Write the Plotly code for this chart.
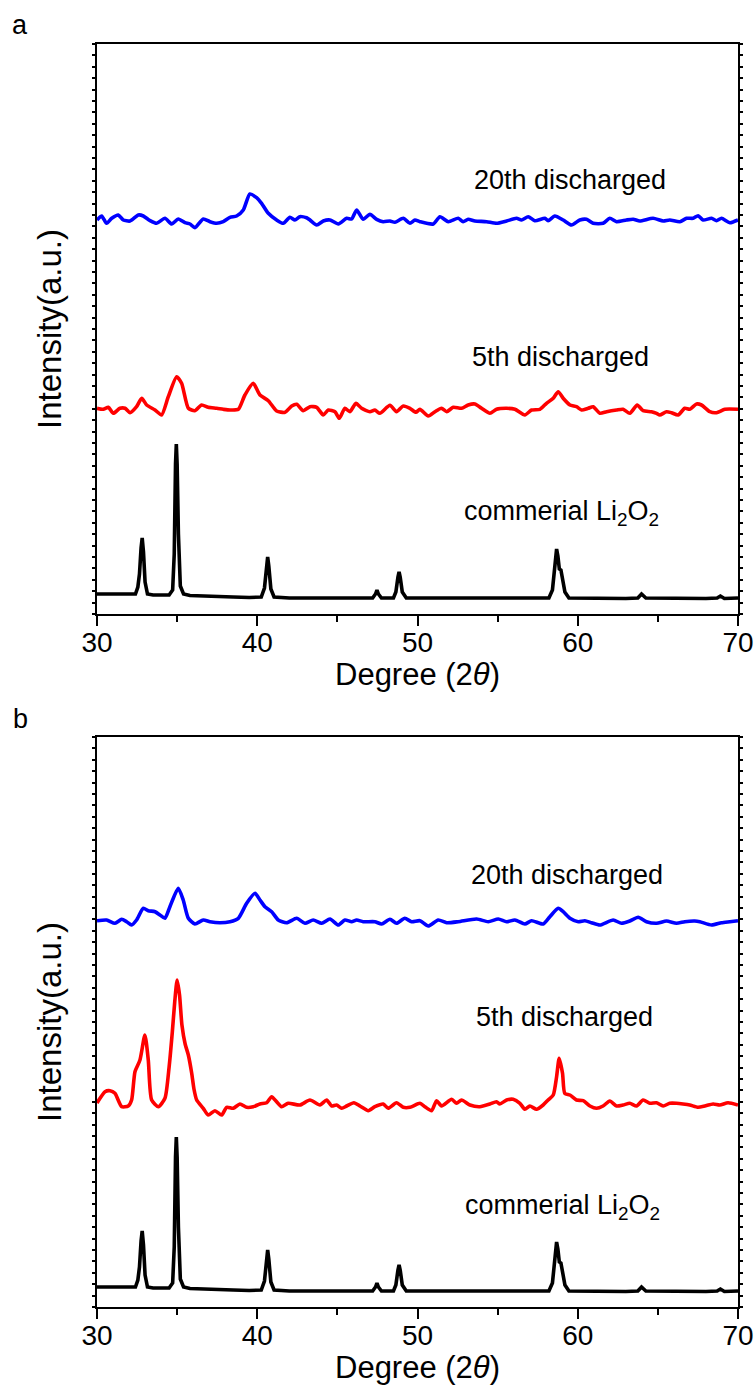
import plotly.graph_objects as go

W, H = 755, 1387

# ---------------- data (intensity in arbitrary units) -------------
# commercial Li2O2 reference pattern (same in both panels)
ref_theta = [30.0, 30.5, 31.0, 31.5, 32.0, 32.4, 32.55, 32.65, 32.75, 32.82, 32.9, 33.0, 33.15,
             33.5, 34.0, 34.5, 34.72, 34.82, 34.9, 34.95, 35.0, 35.08, 35.2, 35.4, 35.8, 36.5,
             37.5, 38.5, 39.5, 40.25, 40.45, 40.58, 40.65, 40.72, 40.85, 41.05, 42.0, 43.5, 45.0,
             46.5, 47.2, 47.38, 47.47, 47.56, 47.75, 48.5, 48.65, 48.78, 48.85, 48.92, 49.05,
             49.3, 51.0, 53.0, 55.0, 57.0, 58.2, 58.42, 58.58, 58.68, 58.76, 58.85, 58.95, 59.05,
             59.2, 59.45, 61.0, 63.0, 63.75, 63.98, 64.25, 66.0, 68.0, 68.7, 68.9, 69.15, 69.6, 70.0]
ref_int = [20, 20, 19.5, 20, 19.5, 20, 27, 40, 66, 76, 62, 32, 20,
           19, 19, 19, 24, 60, 150, 170, 150, 80, 28, 20, 18.5, 18,
           17, 17, 16.5, 17, 26, 48, 57, 48, 25, 17, 16, 16, 16,
           16, 16, 20, 24, 20, 16, 16, 22, 37, 42, 37, 22,
           16, 16, 16, 15.5, 15.5, 16, 24, 50, 65, 58, 45, 44, 35,
           22, 16, 15.5, 15.5, 16, 20, 16, 15.5, 15.5, 16, 18, 15.5, 15.5, 16]

# panel a, 5th discharged
a5_theta = [30.0, 30.39, 30.71, 31.02, 31.43, 31.75, 32.06, 32.47, 32.79, 33.1, 33.62, 34.03, 34.45,
            34.97, 35.28, 35.7, 36.11, 36.53, 36.94, 37.47, 37.88, 38.3, 38.82, 39.23, 39.75, 40.17,
            40.69, 41.21, 41.73, 42.15, 42.46, 42.87, 43.29, 43.71, 44.12, 44.43, 44.85, 45.12, 45.47,
            45.78, 46.16, 46.51, 47.03, 47.34, 47.65, 48.28, 48.69, 49.11, 49.53, 49.9, 50.15, 50.67,
            51.09, 51.5, 51.82, 52.23, 52.75, 53.16, 53.58, 54.0, 54.52, 54.93, 55.56, 56.08, 56.7,
            57.12, 57.64, 58.05, 58.47, 58.78, 59.09, 59.51, 59.92, 60.24, 60.65, 60.96, 61.38, 61.8,
            62.42, 62.83, 63.25, 63.71, 64.08, 64.6, 64.92, 65.12, 65.54, 65.85, 66.26, 66.68, 66.99,
            67.41, 67.72, 68.24, 68.66, 69.18, 70.0]
a5_int = [205.7, 204.7, 206.7, 200.7, 205.7, 205.7, 201.3, 207.3, 215.7, 209, 204, 199, 217.3,
          237.3, 230.7, 205.7, 203.3, 209, 206.7, 205.7, 204.7, 204, 204.7, 219, 230.7, 219,
          213.3, 203, 201.7, 208, 209.7, 203.3, 207.3, 206.7, 199, 204, 202.3, 195.7, 205.7,
          202.3, 210.7, 205.7, 202.3, 204, 200.7, 208.7, 202.3, 208, 205.7, 201.7, 204.7, 198,
          202.3, 205.7, 202.3, 206.7, 205.7, 209, 210, 205.7, 200.7, 204.7, 205.7, 204.7, 199,
          204, 204.7, 210.7, 215.7, 222.3, 215.7, 209, 207.3, 204, 205.7, 207.3, 200.7, 202.3,
          204, 204.7, 200.7, 209, 203.3, 202.3, 200.7, 199, 202.3, 201.3, 199, 205.7, 204.7,
          210, 209, 202.3, 201.3, 204.7, 204.7]

# panel a, 20th discharged
a20_theta = [30.0, 30.29, 30.6, 30.92, 31.33, 31.64, 32.06, 32.58, 32.89, 33.31, 33.72, 34.24, 34.66,
             35.07, 35.49, 35.8, 36.11, 36.63, 37.05, 37.47, 37.88, 38.3, 38.71, 39.13, 39.54, 39.96,
             40.27, 40.69, 41.21, 41.62, 42.04, 42.35, 42.66, 43.08, 43.29, 43.71, 44.12, 44.54, 45.06,
             45.58, 45.89, 46.2, 46.61, 47.03, 47.45, 47.86, 48.28, 48.59, 49.11, 49.53, 49.84, 50.15,
             50.98, 51.4, 51.92, 52.54, 52.85, 53.16, 53.58, 54.31, 54.93, 55.56, 56.18, 56.49, 56.91,
             57.32, 57.95, 58.15, 58.57, 59.09, 59.61, 60.13, 60.55, 60.96, 61.58, 62.0, 62.42, 63.04,
             63.46, 63.87, 64.7, 65.33, 65.74, 66.37, 66.79, 67.2, 67.51, 67.82, 68.35, 68.66, 68.97,
             69.49, 70.0]
a20_int = [394, 398, 390.7, 395.7, 399, 394, 393, 399, 398, 393.3, 390.7, 395.7, 390,
           395, 391.3, 390, 386.3, 395, 392.3, 390.7, 392.3, 396.7, 398, 404, 420, 416.3,
           410.7, 400.7, 394, 390.7, 396.7, 394, 397.3, 396.3, 394, 389, 393, 394, 390,
           395.7, 395, 404, 394.7, 399.7, 394.7, 392.3, 393, 391.7, 395.7, 390.7, 394, 392.3,
           390, 397.3, 392.3, 395.7, 392.3, 394.7, 393, 392.3, 390.7, 393, 395.7, 394, 397.3,
           393.3, 395.7, 393.3, 398, 394, 389, 394, 394.7, 390.7, 390.7, 395.7, 392.3, 394,
           394.7, 393, 395.7, 393, 394, 392.3, 395.7, 395.7, 398.3, 394, 395.7, 393.3, 395.7,
           391.3, 394]

# panel b, 5th discharged
b5_theta = [30.0, 30.5, 30.81, 31.12, 31.54, 31.95, 32.16, 32.37, 32.68, 32.99, 33.2, 33.41, 33.83,
            34.24, 34.5, 34.7, 34.85, 35.0, 35.15, 35.3, 35.5, 35.7, 35.91, 36.05, 36.22, 36.63,
            36.94, 37.36, 37.78, 38.09, 38.5, 38.92, 39.34, 39.75, 40.17, 40.59, 40.9, 41.21, 41.52,
            41.93, 42.66, 43.29, 43.91, 44.33, 44.64, 44.95, 45.27, 45.58, 46.03, 46.41, 46.93,
            47.34, 47.86, 48.17, 48.69, 49.11, 49.53, 50.15, 50.46, 50.88, 51.19, 51.5, 52.13,
            52.44, 52.75, 53.27, 53.89, 54.52, 54.93, 55.14, 55.56, 55.97, 56.39, 56.7, 57.01,
            57.43, 57.84, 58.15, 58.47, 58.68, 58.84, 59.05, 59.19, 59.51, 59.92, 60.34, 60.76,
            61.17, 61.58, 62.0, 62.42, 62.83, 63.25, 63.67, 64.08, 64.5, 64.91, 65.33, 65.74,
            66.16, 66.57, 66.99, 67.51, 67.93, 68.45, 68.86, 69.38, 70.0]
b5_int = [204, 215.3, 216.3, 213.7, 200.3, 201, 207, 235.3, 247, 272, 247, 207, 200.3,
          208.7, 240, 275, 305, 327, 312, 282, 263, 252, 233.7, 218, 207, 198.7,
          192, 196.3, 192, 199.7, 198.7, 203, 199.7, 200.3, 203, 204.3, 210.3, 205.3, 200.3,
          203.7, 202, 207, 202, 207, 201, 202, 198.7, 201, 204.3, 201, 196.3,
          200.3, 203, 198.7, 204.3, 199.7, 199.7, 203.7, 200.3, 196.3, 206.3, 201, 207.7,
          203.7, 207, 202, 200.3, 203, 205.3, 203, 207, 207.7, 203.7, 197.7, 201,
          197.7, 202, 207, 212, 230.3, 248.7, 233.7, 213.7, 212, 207, 206.3, 201,
          198.7, 201, 206, 201, 202, 203.7, 201, 207, 203.7, 204.3, 201, 203.7,
          203.7, 203, 202, 199.7, 201, 203, 202, 204.3, 202]

# panel b, 20th discharged
b20_theta = [30.0, 30.6, 31.12, 31.54, 31.85, 32.16, 32.47, 32.89, 33.2, 33.62, 33.93, 34.24, 34.55,
             35.07, 35.38, 35.7, 36.11, 36.63, 37.05, 37.67, 38.3, 38.82, 39.34, 39.86, 40.17, 40.48,
             40.9, 41.31, 41.83, 42.46, 42.98, 43.49, 44.02, 44.54, 45.06, 45.47, 45.89, 46.2, 46.61,
             47.34, 47.76, 48.28, 48.69, 49.21, 49.63, 50.15, 50.67, 51.29, 51.82, 52.54, 53.69,
             54.41, 55.04, 55.56, 56.08, 56.7, 57.12, 57.84, 58.26, 58.78, 59.09, 59.51, 60.03,
             60.44, 60.86, 61.38, 62.21, 62.73, 63.25, 63.77, 64.29, 64.92, 65.54, 66.16, 66.68,
             67.3, 67.62, 68.35, 68.97, 69.49, 70.0]
b20_int = [386.3, 387, 383.7, 387.7, 385.3, 382, 387, 398.7, 396.3, 395.3, 392, 388.7, 400.3,
           418.7, 407, 388.7, 383, 387, 385.3, 384.3, 385.3, 388.7, 403.7, 413.7, 407, 400.3,
           395.3, 387, 384.3, 388.7, 383.7, 387, 383.7, 388, 382, 387, 385.3, 387, 385.3,
           385.3, 383, 387.7, 383.7, 388.7, 385.3, 386.3, 381, 387, 384.3, 385.3, 388,
           385.3, 388, 385.3, 387, 383, 386.3, 383, 390.3, 398.7, 395.3, 388.7, 385.3,
           386.3, 384.3, 382, 387, 383.7, 386, 389.7, 385.3, 383.7, 386, 383.7, 385.3,
           386, 385.3, 382, 384.3, 385.3, 386.3]

curve_labels = ["20th discharged", "5th discharged", "commerial Li<sub>2</sub>O<sub>2</sub>"]
label_theta_a = [59.5, 58.95, 59.0]
label_int_a = [434, 257, 101]
label_theta_b = [59.3, 59.2, 59.05]
label_int_b = [432, 290, 100]
x_title = "Degree (2<i>θ</i>)"
y_title = "Intensity(a.u.)"

# ---------------- figure -------------
FONT = "Liberation Sans, Arial, sans-serif"
fig = go.Figure()

def add_curve(x, y, color, xa, ya, smooth=True):
    fig.add_trace(go.Scatter(
        x=x, y=y, mode="lines", xaxis=xa, yaxis=ya, showlegend=False,
        line=dict(color=color, width=3.6, shape="spline" if smooth else "linear",
                  smoothing=0.6 if smooth else None),
    ))

add_curve(ref_theta, ref_int, "#000000", "x", "y", smooth=False)
add_curve(a5_theta, a5_int, "#ff0000", "x", "y")
add_curve(a20_theta, a20_int, "#0000ff", "x", "y")
add_curve(ref_theta, ref_int, "#000000", "x2", "y2", smooth=False)
add_curve(b5_theta, b5_int, "#ff0000", "x2", "y2")
add_curve(b20_theta, b20_int, "#0000ff", "x2", "y2")

x_dom = [97 / W, 738 / W]
ya_dom = [1 - 614 / H, 1 - 44 / H]
yb_dom = [1 - 1307 / H, 1 - 737 / H]

def xaxis_style(anchor):
    return dict(
        domain=x_dom, anchor=anchor, range=[30, 70], showgrid=False, zeroline=False,
        showline=True, linecolor="black", linewidth=2, mirror=True,
        ticks="outside", ticklen=10, tickwidth=2, tickcolor="black",
        tick0=30, dtick=10, ticklabelstandoff=-8,
        minor=dict(dtick=5, ticks="outside", ticklen=6, tickwidth=2, tickcolor="black", showgrid=False),
        tickfont=dict(family=FONT, size=28, color="black"),
    )

def yaxis_style(anchor, dom):
    return dict(
        domain=dom, anchor=anchor, range=[0, 570], showgrid=False, zeroline=False,
        showline=True, linecolor="black", linewidth=2, mirror="ticks",
        ticks="outside", ticklen=3, tickwidth=1.5, tickcolor="black",
        tick0=0, dtick=11.4, showticklabels=False,
        title=dict(text=y_title, font=dict(family=FONT, size=33, color="black"), standoff=20),
    )

fig.update_layout(
    width=W, height=H, margin=dict(l=0, r=0, t=0, b=0),
    paper_bgcolor="white", plot_bgcolor="white",
    font=dict(family=FONT, color="black"),
    xaxis=xaxis_style("y"), yaxis=yaxis_style("x", ya_dom),
    xaxis2=xaxis_style("y2"), yaxis2=yaxis_style("x2", yb_dom),
)
for ax in ("xaxis", "yaxis", "xaxis2", "yaxis2"):
    fig.layout[ax].automargin = False

# x-axis titles (placed as paper annotations so they sit tight under the tick labels)
for ty_px in (674, 1367):
    fig.add_annotation(x=(97 + 738) / 2 / W, y=1 - ty_px / H, xref="paper", yref="paper",
                       text=x_title, showarrow=False, xanchor="center", yanchor="middle",
                       font=dict(family=FONT, size=31, color="black"))

for txt, tx, ty in zip(curve_labels, label_theta_a, label_int_a):
    fig.add_annotation(x=tx, y=ty, xref="x", yref="y", text=txt, showarrow=False,
                       xanchor="center", yanchor="middle",
                       font=dict(family=FONT, size=27, color="black"))
for txt, tx, ty in zip(curve_labels, label_theta_b, label_int_b):
    fig.add_annotation(x=tx, y=ty, xref="x2", yref="y2", text=txt, showarrow=False,
                       xanchor="center", yanchor="middle",
                       font=dict(family=FONT, size=27, color="black"))

fig.add_annotation(x=20 / W, y=1 - 25 / H, xref="paper", yref="paper", text="a", showarrow=False,
                   xanchor="center", yanchor="middle",
                   font=dict(family=FONT, size=27, color="black"))
fig.add_annotation(x=20 / W, y=1 - 719 / H, xref="paper", yref="paper", text="b", showarrow=False,
                   xanchor="center", yanchor="middle",
                   font=dict(family=FONT, size=27, color="black"))

fig.write_html(
    "out.html",
    config={"displayModeBar": False},
    post_script="document.body.style.margin='0';document.body.style.padding='0';"
                "document.body.style.overflow='hidden';",
)
